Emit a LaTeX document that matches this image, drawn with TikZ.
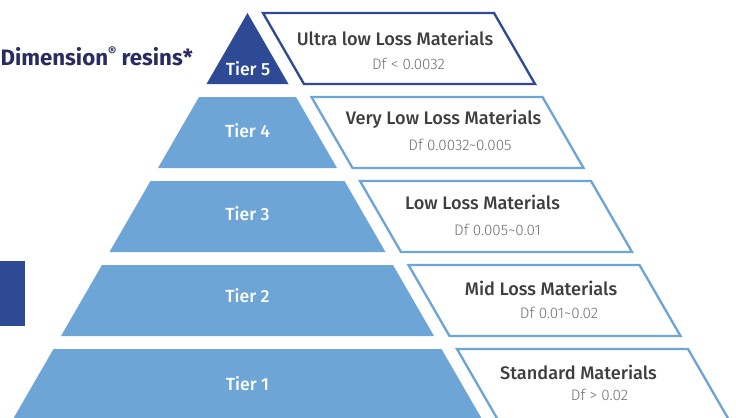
\documentclass[tikz,border=0pt]{standalone}
\usepackage{fontspec}
\setmainfont{Fira Sans}
\newfontfamily\medfont{Fira Sans Medium}
\newfontfamily\lightfont{Fira Sans Light}
\usetikzlibrary{positioning}
\definecolor{tierblue}{RGB}{108,165,214}
\definecolor{topblue}{RGB}{46,74,148}
\definecolor{navytext}{RGB}{42,43,94}
\definecolor{titlegray}{RGB}{62,62,62}
\definecolor{dfgray}{RGB}{112,112,112}

\begin{document}
\begin{tikzpicture}[x=0.03cm, y=-0.03cm,
      tier/.style={fill=tierblue},
      band/.style={draw=tierblue, line width=2pt, line join=miter},
      tierlabel/.style={text=white, anchor=base, font=\medfont\fontsize{15}{18}\selectfont},
      matname/.style={text=titlegray, anchor=base, font=\medfont\fontsize{15.5}{18}\selectfont},
      dfval/.style={text=dfgray, anchor=base, font=\lightfont\fontsize{13}{15}\selectfont}]
    \useasboundingbox (0,0) rectangle (736,417);
    \clip (0,0) rectangle (736,417);
    % heading and side tab
    \node[text=navytext, anchor=base east, inner sep=0pt, font=\bfseries\fontsize{19}{22}\selectfont] (resins)
         at (193,65.5) {Dimension\raisebox{.42em}{\fontsize{11}{11}\selectfont\textregistered}\ resins*};
    \fill[topblue] (0,261) rectangle (25,326);
    % pyramid, top to bottom
    \fill[topblue] (247.5,13) -- (288.5,84) -- (206.5,84) -- cycle;
    \fill[tier] (199,97) -- (296,97) -- (337,168) -- (158,168) -- cycle;
    \fill[tier] (150.5,181) -- (344.5,181) -- (385.5,252) -- (109.5,252) -- cycle;
    \fill[tier] (102,265) -- (393,265) -- (434,336) -- (61,336) -- cycle;
    \fill[tier] (53.5,349) -- (441.5,349) -- (482.5,420) -- (12.5,420) -- cycle;
    % slanted bands beside each tier
    \draw[band, draw=topblue] (263,13) -- (494,13) -- (535,84) -- (304,84) -- cycle;
    \draw[band] (311.5,97) -- (542.5,97) -- (583.5,168) -- (352.5,168) -- cycle;
    \draw[band] (360,181) -- (591,181) -- (632,252) -- (401,252) -- cycle;
    \draw[band] (408.5,265) -- (639.5,265) -- (680.5,336) -- (449.5,336) -- cycle;
    \draw[band] (457,349) -- (688,349) -- (729,420) -- (498,420) -- cycle;
    % labels
    \node[tierlabel] (t5) at (248,75) {Tier 5};
    \node[matname] (m5) at (395,45) {Ultra low Loss Materials};
    \node[dfval] (d5) at (408.5,69) {Df < 0.0032};
    \node[tierlabel] (t4) at (247.5,137) {Tier 4};
    \node[matname] (m4) at (443.5,124) {Very Low Loss Materials};
    \node[dfval] (d4) at (460,150.5) {Df 0.0032\textasciitilde 0.005};
    \node[tierlabel] (t3) at (247.5,220) {Tier 3};
    \node[matname] (m3) at (482.5,209) {Low Loss Materials};
    \node[dfval] (d3) at (497.5,235.5) {Df 0.005\textasciitilde 0.01};
    \node[tierlabel] (t2) at (247.5,302) {Tier 2};
    \node[matname] (m2) at (541,295) {Mid Loss Materials};
    \node[dfval] (d2) at (559,318.5) {Df 0.01\textasciitilde 0.02};
    \node[tierlabel] (t1) at (247.5,390) {Tier 1};
    \node[matname] (m1) at (578.5,379) {Standard Materials};
    \node[dfval] (d1) at (599.5,400) {Df > 0.02};
  \end{tikzpicture}
\end{document}
